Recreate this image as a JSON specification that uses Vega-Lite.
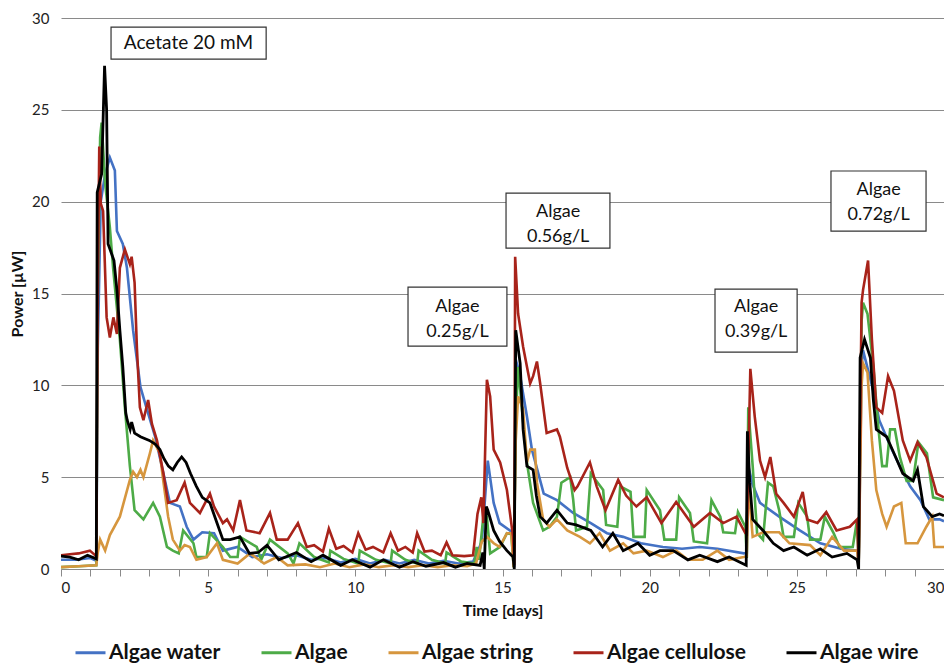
{
  "$schema": "https://vega.github.io/schema/vega-lite/v6.json",
  "width": 883,
  "height": 551,
  "autosize": {"type": "none"},
  "padding": {"left": 61, "top": 18, "right": 0, "bottom": 96},
  "background": "white",
  "config": {
    "view": {"stroke": null},
    "font": "Lato",
    "axis": {"labelFont": "Lato", "titleFont": "Lato", "labelColor": "#222", "titleColor": "#111"}
  },
  "datasets": {
    "water": [
      {"t":0,"p":0.5},{"t":0.5,"p":0.5},{"t":1.0,"p":0.6},{"t":1.2,"p":0.45},{"t":1.25,"p":12},{"t":1.35,"p":20},{"t":1.5,"p":21.5},{"t":1.66,"p":22.4},{"t":1.83,"p":21.7},{"t":1.9,"p":18.4},{"t":2.1,"p":17.7},{"t":2.24,"p":16.4},{"t":2.45,"p":13},{"t":2.7,"p":9.9},{"t":2.9,"p":8.8},{"t":3.2,"p":7.2},{"t":3.48,"p":5.2},{"t":3.7,"p":3.6},{"t":4.04,"p":3.4},{"t":4.27,"p":2.3},{"t":4.5,"p":1.6},{"t":4.8,"p":2.0},{"t":5.2,"p":1.95},{"t":5.5,"p":1.0},{"t":6.0,"p":1.2},{"t":6.5,"p":0.65},{"t":7.0,"p":0.8},{"t":7.5,"p":0.6},{"t":8.0,"p":0.75},{"t":8.5,"p":0.5},{"t":9.0,"p":0.6},{"t":9.5,"p":0.35},{"t":10.0,"p":0.55},{"t":10.5,"p":0.3},{"t":11.0,"p":0.5},{"t":11.5,"p":0.3},{"t":12.0,"p":0.5},{"t":12.5,"p":0.3},{"t":13.0,"p":0.45},{"t":13.5,"p":0.3},{"t":14.0,"p":0.4},{"t":14.3,"p":1.5},{"t":14.5,"p":5.9},{"t":14.7,"p":3.6},{"t":14.9,"p":2.5},{"t":15.25,"p":2.1},{"t":15.37,"p":1.9},{"t":15.4,"p":0.1},{"t":15.45,"p":11.4},{"t":15.6,"p":10.5},{"t":15.83,"p":8.3},{"t":16.0,"p":6.5},{"t":16.4,"p":4.1},{"t":16.85,"p":3.75},{"t":17.4,"p":3.05},{"t":18.0,"p":2.5},{"t":18.55,"p":1.95},{"t":19.1,"p":1.75},{"t":19.7,"p":1.4},{"t":20.45,"p":1.2},{"t":21.1,"p":1.1},{"t":21.7,"p":1.2},{"t":22.3,"p":1.1},{"t":23.2,"p":0.85},{"t":23.3,"p":0.9},{"t":23.35,"p":5.6},{"t":23.5,"p":4.6},{"t":23.75,"p":3.6},{"t":24.4,"p":2.85},{"t":25.1,"p":2.1},{"t":25.8,"p":1.4},{"t":26.5,"p":1.1},{"t":27.05,"p":1.0},{"t":27.1,"p":0.2},{"t":27.2,"p":11.0},{"t":27.25,"p":11.9},{"t":27.6,"p":9.7},{"t":27.8,"p":8.1},{"t":28.2,"p":6.6},{"t":28.5,"p":5.6},{"t":28.85,"p":4.5},{"t":29.2,"p":3.75},{"t":29.5,"p":2.7},{"t":29.85,"p":2.7},{"t":30,"p":2.6}
    ],
    "algae": [
      {"t":0,"p":0.1},{"t":0.6,"p":0.15},{"t":1.2,"p":0.2},{"t":1.25,"p":15},{"t":1.33,"p":23.5},{"t":1.38,"p":24.3},{"t":1.5,"p":21},{"t":1.66,"p":18.6},{"t":1.77,"p":16.4},{"t":2.0,"p":12.5},{"t":2.17,"p":8.8},{"t":2.34,"p":5.6},{"t":2.5,"p":3.2},{"t":2.8,"p":2.7},{"t":3.13,"p":3.6},{"t":3.36,"p":2.85},{"t":3.6,"p":1.2},{"t":3.8,"p":1.0},{"t":4.0,"p":0.85},{"t":4.15,"p":2.1},{"t":4.5,"p":1.4},{"t":4.6,"p":0.65},{"t":4.95,"p":0.65},{"t":5.06,"p":1.95},{"t":5.5,"p":1.2},{"t":5.75,"p":0.65},{"t":6.0,"p":0.65},{"t":6.08,"p":1.75},{"t":6.65,"p":1.2},{"t":6.8,"p":0.5},{"t":7.1,"p":1.6},{"t":7.7,"p":0.85},{"t":7.9,"p":0.3},{"t":8.1,"p":1.4},{"t":8.6,"p":0.65},{"t":9.1,"p":0.35},{"t":9.15,"p":1.0},{"t":9.6,"p":0.55},{"t":10.1,"p":0.3},{"t":10.15,"p":1.0},{"t":10.7,"p":0.5},{"t":11.2,"p":0.3},{"t":11.25,"p":1.0},{"t":11.7,"p":0.5},{"t":12.1,"p":0.3},{"t":12.15,"p":1.0},{"t":12.6,"p":0.5},{"t":13.05,"p":0.3},{"t":13.1,"p":0.9},{"t":13.6,"p":0.4},{"t":14.05,"p":0.3},{"t":14.12,"p":1.2},{"t":14.2,"p":0.5},{"t":14.35,"p":2.85},{"t":14.47,"p":2.85},{"t":14.58,"p":0.85},{"t":14.92,"p":1.2},{"t":15.15,"p":1.95},{"t":15.3,"p":1.9},{"t":15.38,"p":0.1},{"t":15.45,"p":8},{"t":15.53,"p":11},{"t":15.83,"p":5.8},{"t":16.04,"p":3.6},{"t":16.38,"p":2.1},{"t":16.6,"p":2.3},{"t":16.85,"p":2.85},{"t":17.0,"p":4.7},{"t":17.3,"p":5.0},{"t":17.4,"p":3.8},{"t":17.5,"p":2.1},{"t":17.87,"p":2.3},{"t":18.0,"p":5.2},{"t":18.42,"p":4.3},{"t":18.52,"p":2.4},{"t":18.9,"p":2.3},{"t":19.0,"p":4.5},{"t":19.35,"p":4.2},{"t":19.45,"p":1.75},{"t":19.83,"p":1.75},{"t":19.9,"p":4.3},{"t":20.35,"p":3.2},{"t":20.5,"p":1.6},{"t":20.9,"p":1.6},{"t":21.0,"p":3.9},{"t":21.37,"p":3.05},{"t":21.5,"p":1.5},{"t":21.95,"p":1.4},{"t":22.1,"p":3.75},{"t":22.4,"p":2.85},{"t":22.5,"p":2.0},{"t":22.9,"p":1.95},{"t":23.0,"p":3.1},{"t":23.25,"p":2.3},{"t":23.3,"p":0.6},{"t":23.35,"p":8.8},{"t":23.5,"p":5.6},{"t":23.65,"p":1.95},{"t":23.85,"p":1.6},{"t":24.02,"p":4.7},{"t":24.2,"p":4.5},{"t":24.4,"p":3.2},{"t":24.55,"p":1.75},{"t":24.9,"p":1.75},{"t":25.05,"p":3.6},{"t":25.35,"p":2.85},{"t":25.45,"p":1.6},{"t":25.8,"p":1.6},{"t":25.95,"p":2.85},{"t":26.25,"p":1.95},{"t":26.45,"p":1.2},{"t":26.9,"p":1.2},{"t":27.05,"p":2.7},{"t":27.1,"p":0.2},{"t":27.2,"p":13.5},{"t":27.25,"p":14.5},{"t":27.4,"p":13.9},{"t":27.6,"p":11},{"t":27.77,"p":7.7},{"t":27.9,"p":5.6},{"t":28.05,"p":5.6},{"t":28.17,"p":7.6},{"t":28.33,"p":7.6},{"t":28.5,"p":6.1},{"t":28.73,"p":4.8},{"t":28.95,"p":4.8},{"t":29.13,"p":6.9},{"t":29.42,"p":6.3},{"t":29.63,"p":3.9},{"t":30,"p":3.75}
    ],
    "string": [
      {"t":0,"p":0.1},{"t":0.6,"p":0.15},{"t":1.2,"p":0.2},{"t":1.25,"p":0.9},{"t":1.33,"p":1.6},{"t":1.5,"p":1.0},{"t":1.66,"p":1.85},{"t":2.0,"p":2.85},{"t":2.34,"p":4.85},{"t":2.45,"p":5.3},{"t":2.58,"p":5.0},{"t":2.7,"p":5.4},{"t":2.8,"p":5.0},{"t":3.02,"p":6.3},{"t":3.13,"p":7.0},{"t":3.36,"p":6.3},{"t":3.47,"p":4.85},{"t":3.64,"p":2.85},{"t":3.8,"p":1.6},{"t":4.04,"p":1.0},{"t":4.2,"p":1.3},{"t":4.38,"p":1.2},{"t":4.6,"p":0.5},{"t":4.95,"p":0.65},{"t":5.3,"p":1.4},{"t":5.5,"p":0.5},{"t":6.0,"p":0.3},{"t":6.42,"p":0.85},{"t":6.9,"p":0.3},{"t":7.33,"p":0.65},{"t":7.7,"p":0.2},{"t":8.3,"p":0.25},{"t":8.8,"p":0.1},{"t":9.3,"p":0.3},{"t":9.8,"p":0.1},{"t":10.3,"p":0.25},{"t":10.8,"p":0.1},{"t":11.3,"p":0.2},{"t":11.8,"p":0.1},{"t":12.3,"p":0.2},{"t":12.8,"p":0.1},{"t":13.3,"p":0.2},{"t":13.8,"p":0.15},{"t":14.1,"p":0.3},{"t":14.3,"p":1.5},{"t":14.47,"p":1.75},{"t":14.7,"p":1.4},{"t":14.9,"p":1.2},{"t":15.15,"p":1.95},{"t":15.3,"p":1.95},{"t":15.38,"p":0.1},{"t":15.45,"p":7},{"t":15.53,"p":9.4},{"t":15.7,"p":8.7},{"t":15.83,"p":5.8},{"t":15.94,"p":6.5},{"t":16.1,"p":6.5},{"t":16.17,"p":4.7},{"t":16.38,"p":2.7},{"t":16.6,"p":2.3},{"t":16.85,"p":2.7},{"t":17.2,"p":2.1},{"t":17.63,"p":1.75},{"t":17.97,"p":1.4},{"t":18.3,"p":1.95},{"t":18.65,"p":1.0},{"t":19.1,"p":1.4},{"t":19.45,"p":0.85},{"t":19.9,"p":1.0},{"t":20.45,"p":0.65},{"t":20.9,"p":1.0},{"t":21.3,"p":0.5},{"t":21.8,"p":0.5},{"t":22.3,"p":1.0},{"t":22.7,"p":0.5},{"t":23.2,"p":0.65},{"t":23.3,"p":0.7},{"t":23.35,"p":4.7},{"t":23.5,"p":1.75},{"t":23.85,"p":2.0},{"t":24.4,"p":2.0},{"t":24.75,"p":1.4},{"t":25.45,"p":1.3},{"t":25.8,"p":0.75},{"t":26.2,"p":1.75},{"t":26.6,"p":1.0},{"t":27.05,"p":1.0},{"t":27.1,"p":0.1},{"t":27.2,"p":10.0},{"t":27.25,"p":11.2},{"t":27.4,"p":10.7},{"t":27.55,"p":7.0},{"t":27.7,"p":4.3},{"t":27.9,"p":3.0},{"t":28.05,"p":2.3},{"t":28.3,"p":3.4},{"t":28.55,"p":3.6},{"t":28.7,"p":1.4},{"t":29.1,"p":1.4},{"t":29.4,"p":2.3},{"t":29.6,"p":2.85},{"t":29.67,"p":1.2},{"t":30,"p":1.2}
    ],
    "cellulose": [
      {"t":0,"p":0.75},{"t":0.3,"p":0.8},{"t":0.6,"p":0.85},{"t":0.98,"p":1.0},{"t":1.2,"p":0.7},{"t":1.25,"p":15},{"t":1.3,"p":23.0},{"t":1.35,"p":19.9},{"t":1.43,"p":19.5},{"t":1.55,"p":13.7},{"t":1.66,"p":12.6},{"t":1.78,"p":13.7},{"t":1.9,"p":12.8},{"t":2.0,"p":16.4},{"t":2.17,"p":17.4},{"t":2.34,"p":16.6},{"t":2.4,"p":17.0},{"t":2.5,"p":15.6},{"t":2.58,"p":12.0},{"t":2.68,"p":8.8},{"t":2.8,"p":8.1},{"t":2.96,"p":9.2},{"t":3.09,"p":7.9},{"t":3.26,"p":7.0},{"t":3.48,"p":5.2},{"t":3.64,"p":3.6},{"t":3.93,"p":3.75},{"t":4.2,"p":4.7},{"t":4.38,"p":3.6},{"t":4.72,"p":3.05},{"t":5.06,"p":4.1},{"t":5.2,"p":3.4},{"t":5.5,"p":2.5},{"t":5.64,"p":2.7},{"t":5.85,"p":2.1},{"t":6.08,"p":3.75},{"t":6.3,"p":2.1},{"t":6.75,"p":1.95},{"t":7.1,"p":3.05},{"t":7.33,"p":1.6},{"t":7.7,"p":1.6},{"t":8.05,"p":2.5},{"t":8.35,"p":1.2},{"t":8.6,"p":1.3},{"t":8.9,"p":0.95},{"t":9.1,"p":2.2},{"t":9.35,"p":1.1},{"t":9.6,"p":1.25},{"t":9.9,"p":0.9},{"t":10.1,"p":1.95},{"t":10.35,"p":1.05},{"t":10.6,"p":1.2},{"t":10.95,"p":0.9},{"t":11.2,"p":1.95},{"t":11.45,"p":1.0},{"t":11.7,"p":1.2},{"t":11.95,"p":0.9},{"t":12.1,"p":1.95},{"t":12.35,"p":0.95},{"t":12.6,"p":1.0},{"t":12.9,"p":0.75},{"t":13.1,"p":1.45},{"t":13.3,"p":0.75},{"t":13.7,"p":0.7},{"t":14.0,"p":0.75},{"t":14.15,"p":3.0},{"t":14.28,"p":3.9},{"t":14.35,"p":2.5},{"t":14.47,"p":10.3},{"t":14.58,"p":9.4},{"t":14.7,"p":6.5},{"t":14.92,"p":5.8},{"t":15.15,"p":4.3},{"t":15.36,"p":1.75},{"t":15.4,"p":0.2},{"t":15.43,"p":17.0},{"t":15.53,"p":13.9},{"t":15.7,"p":12.1},{"t":15.94,"p":10.1},{"t":16.04,"p":10.5},{"t":16.17,"p":11.3},{"t":16.28,"p":10.1},{"t":16.5,"p":7.4},{"t":16.85,"p":7.6},{"t":16.95,"p":7.2},{"t":17.2,"p":5.5},{"t":17.45,"p":4.3},{"t":17.55,"p":4.5},{"t":17.97,"p":5.8},{"t":18.2,"p":4.5},{"t":18.5,"p":3.2},{"t":18.93,"p":4.85},{"t":19.2,"p":4.0},{"t":19.55,"p":3.4},{"t":19.9,"p":3.9},{"t":20.4,"p":2.5},{"t":20.9,"p":3.65},{"t":21.5,"p":2.3},{"t":22.05,"p":3.05},{"t":22.5,"p":2.5},{"t":22.95,"p":2.85},{"t":23.25,"p":1.95},{"t":23.3,"p":1.9},{"t":23.42,"p":10.9},{"t":23.57,"p":8.3},{"t":23.75,"p":5.9},{"t":23.92,"p":5.0},{"t":24.1,"p":6.1},{"t":24.3,"p":4.1},{"t":24.55,"p":3.6},{"t":24.9,"p":2.85},{"t":25.2,"p":4.2},{"t":25.35,"p":2.7},{"t":25.7,"p":2.5},{"t":26.0,"p":3.1},{"t":26.35,"p":2.1},{"t":26.8,"p":2.3},{"t":27.05,"p":2.7},{"t":27.1,"p":0.2},{"t":27.2,"p":14.5},{"t":27.25,"p":15.2},{"t":27.42,"p":16.8},{"t":27.55,"p":12.5},{"t":27.7,"p":8.8},{"t":27.9,"p":8.5},{"t":28.1,"p":10.5},{"t":28.3,"p":9.7},{"t":28.6,"p":7.0},{"t":28.85,"p":5.9},{"t":29.1,"p":6.9},{"t":29.4,"p":6.1},{"t":29.75,"p":4.1},{"t":30,"p":3.9}
    ],
    "wire": [
      {"t":0,"p":0.7},{"t":0.3,"p":0.65},{"t":0.6,"p":0.5},{"t":0.9,"p":0.75},{"t":1.2,"p":0.55},{"t":1.23,"p":20.5},{"t":1.38,"p":21.5},{"t":1.48,"p":27.4},{"t":1.55,"p":25},{"t":1.6,"p":17.7},{"t":1.8,"p":16.8},{"t":1.9,"p":15.2},{"t":2.0,"p":13},{"t":2.1,"p":11},{"t":2.2,"p":8.5},{"t":2.25,"p":8.1},{"t":2.35,"p":7.6},{"t":2.4,"p":8.0},{"t":2.5,"p":7.4},{"t":2.7,"p":7.2},{"t":3.0,"p":7.0},{"t":3.2,"p":6.8},{"t":3.36,"p":6.5},{"t":3.5,"p":6.0},{"t":3.65,"p":5.6},{"t":3.8,"p":5.4},{"t":3.95,"p":5.8},{"t":4.1,"p":6.1},{"t":4.25,"p":5.8},{"t":4.4,"p":5.2},{"t":4.6,"p":4.5},{"t":4.8,"p":3.9},{"t":5.06,"p":3.6},{"t":5.3,"p":2.5},{"t":5.5,"p":1.6},{"t":5.75,"p":1.6},{"t":6.08,"p":1.75},{"t":6.4,"p":0.85},{"t":6.7,"p":0.9},{"t":7.0,"p":1.3},{"t":7.4,"p":0.5},{"t":8.0,"p":0.9},{"t":8.5,"p":0.4},{"t":8.9,"p":0.75},{"t":9.5,"p":0.2},{"t":9.9,"p":0.5},{"t":10.5,"p":0.1},{"t":10.95,"p":0.5},{"t":11.5,"p":0.1},{"t":11.96,"p":0.4},{"t":12.4,"p":0.15},{"t":13.0,"p":0.35},{"t":13.4,"p":0.1},{"t":13.8,"p":0.3},{"t":14.24,"p":0.2},{"t":14.33,"p":0.9},{"t":14.38,"p":0.0},{"t":14.45,"p":3.4},{"t":14.5,"p":3.2},{"t":14.7,"p":2.1},{"t":14.9,"p":1.5},{"t":15.15,"p":1.0},{"t":15.36,"p":0.65},{"t":15.4,"p":0.0},{"t":15.45,"p":13.0},{"t":15.6,"p":11.2},{"t":15.7,"p":7.6},{"t":15.83,"p":5.6},{"t":16.04,"p":5.4},{"t":16.15,"p":4.0},{"t":16.28,"p":2.85},{"t":16.5,"p":2.5},{"t":16.85,"p":3.2},{"t":17.2,"p":2.5},{"t":17.5,"p":2.4},{"t":18.0,"p":2.1},{"t":18.4,"p":1.2},{"t":18.75,"p":1.95},{"t":19.1,"p":1.0},{"t":19.6,"p":1.4},{"t":20.0,"p":0.75},{"t":20.35,"p":1.0},{"t":20.8,"p":1.0},{"t":21.3,"p":0.5},{"t":21.7,"p":0.75},{"t":22.3,"p":0.4},{"t":22.7,"p":0.65},{"t":23.28,"p":0.2},{"t":23.32,"p":7.5},{"t":23.4,"p":4.7},{"t":23.5,"p":2.7},{"t":23.85,"p":2.1},{"t":24.2,"p":1.4},{"t":24.55,"p":1.0},{"t":24.9,"p":1.2},{"t":25.35,"p":0.75},{"t":25.8,"p":1.1},{"t":26.2,"p":0.65},{"t":26.7,"p":0.85},{"t":27.05,"p":0.5},{"t":27.1,"p":0.0},{"t":27.15,"p":11.5},{"t":27.3,"p":12.5},{"t":27.5,"p":11.5},{"t":27.6,"p":9.2},{"t":27.7,"p":7.6},{"t":28.05,"p":7.2},{"t":28.3,"p":6.3},{"t":28.6,"p":5.2},{"t":28.95,"p":4.8},{"t":29.1,"p":5.4},{"t":29.3,"p":3.4},{"t":29.6,"p":2.85},{"t":29.85,"p":3.0},{"t":30,"p":2.9}
    ],
    "notes": [
      {"label":"Acetate 20 mM","lines":1,"cx":4.33,"cy":28.63,"x0":1.70,"x1":6.97,"y0":27.76,"y1":29.5},
      {"label":"Algae\n0.25g/L","lines":2,"cx":13.47,"cy":13.6,"x0":11.79,"x1":15.15,"y0":12.14,"y1":15.35},
      {"label":"Algae\n0.56g/L","lines":2,"cx":16.89,"cy":18.77,"x0":15.12,"x1":18.65,"y0":17.47,"y1":20.47},
      {"label":"Algae\n0.39g/L","lines":2,"cx":23.62,"cy":13.6,"x0":22.22,"x1":25.01,"y0":11.81,"y1":15.24},
      {"label":"Algae\n0.72g/L","lines":2,"cx":27.78,"cy":19.97,"x0":26.16,"x1":29.39,"y0":18.4,"y1":21.67}
    ]
  },
  "encoding": {
    "x": {"field": "t", "type": "quantitative", "scale": {"domain": [0, 30], "nice": false},
      "axis": {"title": "Time [days]", "values": [0,1,2,3,4,5,6,7,8,9,10,11,12,13,14,15,16,17,18,19,20,21,22,23,24,25,26,27,28,29,30],
        "labelExpr": "datum.value % 5 === 0 ? datum.label : ''", "grid": false, "domainColor": "#8a8a8a", "domainWidth": 1.2,
        "tickColor": "#8a8a8a", "tickSize": 7, "labelFontSize": 15, "labelPadding": 4, "titleFontSize": 16, "titleFontWeight": "bold", "titlePadding": 7}},
    "y": {"field": "p", "type": "quantitative", "scale": {"domain": [0, 30], "nice": false},
      "axis": {"title": "Power [µW]", "values": [0,5,10,15,20,25,30], "grid": true, "gridColor": "#8a8a8a", "gridWidth": 1.2,
        "domain": false, "ticks": false, "labelFontSize": 15, "labelPadding": 12, "titleFontSize": 16, "titleFontWeight": "bold", "titlePadding": 6}}
  },
  "layer": [
    {"data": {"name": "water"}, "mark": {"type": "line", "strokeWidth": 2.6, "clip": true}, "encoding": {"color": {"datum": "Algae water"}}},
    {"data": {"name": "algae"}, "mark": {"type": "line", "strokeWidth": 2.6, "clip": true}, "encoding": {"color": {"datum": "Algae"}}},
    {"data": {"name": "string"}, "mark": {"type": "line", "strokeWidth": 2.6, "clip": true}, "encoding": {"color": {"datum": "Algae string"}}},
    {"data": {"name": "cellulose"}, "mark": {"type": "line", "strokeWidth": 2.6, "clip": true}, "encoding": {"color": {"datum": "Algae cellulose"}}},
    {"data": {"name": "wire"}, "mark": {"type": "line", "strokeWidth": 2.8, "clip": true},
      "encoding": {"color": {"datum": "Algae wire", "type": "nominal",
        "scale": {"domain": ["Algae water", "Algae", "Algae string", "Algae cellulose", "Algae wire"],
                  "range": ["#4472C4", "#4DAB47", "#D6963E", "#A8231A", "#000000"]},
        "legend": {"title": null, "orient": "none", "direction": "horizontal", "columns": 5, "legendX": 13, "legendY": 618,
          "symbolType": "stroke", "symbolSize": 900, "symbolStrokeWidth": 3, "labelFontSize": 21, "labelFontWeight": "bold",
          "labelFont": "Lato", "labelColor": "#111", "labelOffset": 2, "columnPadding": 34, "labelLimit": 300}}}},
    {"data": {"name": "notes"}, "mark": {"type": "rect", "fill": "white", "stroke": "#333", "strokeWidth": 1.2},
      "encoding": {"x": {"field": "x0", "type": "quantitative"}, "x2": {"field": "x1"}, "y": {"field": "y0", "type": "quantitative"}, "y2": {"field": "y1"}}},
    {"data": {"name": "notes"}, "transform": [{"filter": "datum.lines == 1"}],
      "mark": {"type": "text", "font": "Lato", "fontSize": 19, "align": "center", "baseline": "middle", "color": "#111"},
      "encoding": {"x": {"field": "cx", "type": "quantitative"}, "y": {"field": "cy", "type": "quantitative"}, "text": {"field": "label"}}},
    {"data": {"name": "notes"}, "transform": [{"filter": "datum.lines == 2"}],
      "mark": {"type": "text", "font": "Lato", "fontSize": 18, "lineBreak": "\n", "lineHeight": 25, "align": "center", "baseline": "middle", "dy": -12, "color": "#111"},
      "encoding": {"x": {"field": "cx", "type": "quantitative"}, "y": {"field": "cy", "type": "quantitative"}, "text": {"field": "label"}}}
  ]
}
